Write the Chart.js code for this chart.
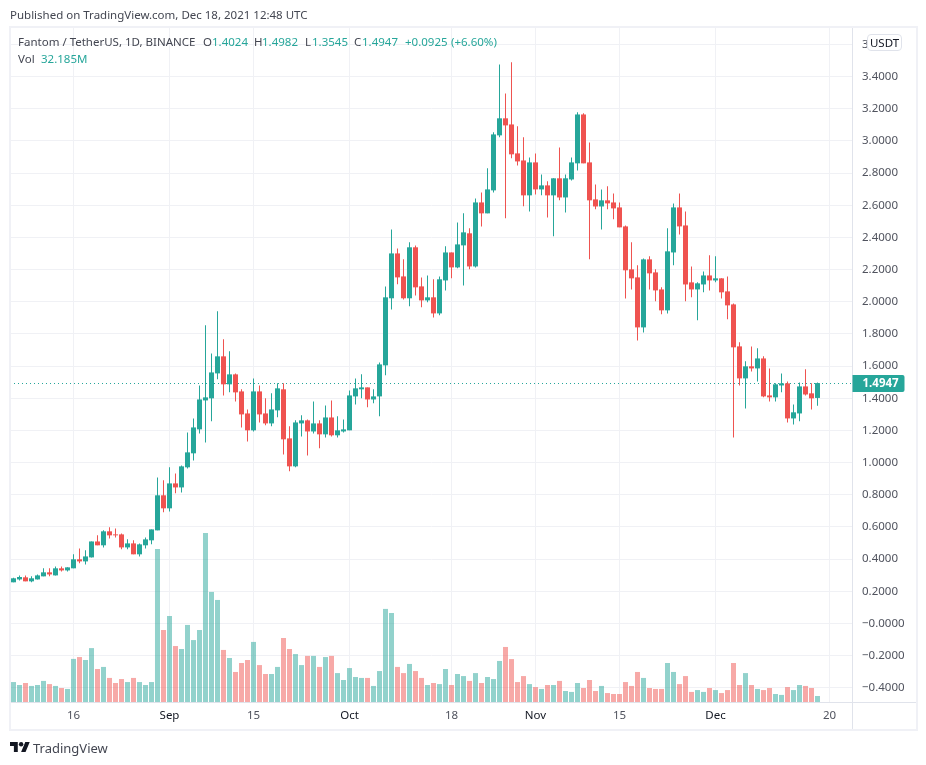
<!DOCTYPE html>
<html>
<head>
<meta charset="utf-8">
<title>Fantom / TetherUS</title>
<script src="https://cdn.jsdelivr.net/npm/chart.js@4"></script>
<style>
    body { margin: 0; background: #fff; font-family: "Noto Sans", sans-serif; }
    #wrap { position: relative; width: 926px; height: 765px; overflow: hidden; }
    canvas { position: absolute; left: 0; top: 0; }
    #frame { position: absolute; left: 9px; top: 26px; width: 909px; height: 705px; box-sizing: border-box; border: 2px solid #f0f1f6; }
    .t { position: absolute; font-size: 11.5px; line-height: 16px; white-space: nowrap; color: #434651; }
    .v { color: #26a69a; }
    #pill { position: absolute; left: 867px; top: 34px; width: 35px; height: 17px; box-sizing: border-box; border: 1px solid #e0e3eb; border-radius: 4px; background: #fff; font-size: 11.5px; line-height: 15px; text-align: center; color: #131722; }
</style>
</head>
<body>
<div id="wrap">
    <canvas id="chart" width="926" height="765"></canvas>
    <div id="frame"></div>
    <div class="t" style="left:10px;top:7px">Published on TradingView.com, Dec 18, 2021 12:48 UTC</div>
    <div class="t" style="left:18px;top:34px">Fantom / TetherUS, 1D, BINANCE</div>
    <div class="t" style="left:203px;top:34px">O</div><div class="t v" style="left:212px;top:34px">1.4024</div>
    <div class="t" style="left:254px;top:34px">H</div><div class="t v" style="left:262px;top:34px">1.4982</div>
    <div class="t" style="left:305px;top:34px">L</div><div class="t v" style="left:312px;top:34px">1.3545</div>
    <div class="t" style="left:354px;top:34px">C</div><div class="t v" style="left:362px;top:34px">1.4947</div>
    <div class="t v" style="left:405px;top:34px">+0.0925</div><div class="t v" style="left:451px;top:34px">(+6.60%)</div>
    <div class="t" style="left:18px;top:51px">Vol</div><div class="t v" style="left:41px;top:51px">32.185M</div>
    <div id="pill">USDT</div>
    <svg style="position:absolute;left:10px;top:742px" width="20" height="10" viewBox="0 4 36 18">
        <path fill="#131722" d="M14 22H7V11H0V4h14v18zM28 22h-8l7.5-18h8L28 22z"/><circle fill="#131722" cx="20" cy="8" r="4"/>
    </svg>
    <div class="t" style="left:33px;top:740px;font-size:13px">TradingView</div>
</div>
<script>
'use strict';

/* global Chart */

const opens = [.256,.274,.287,.262,.274,.293,.318,.299,.343,.330,.343,.399,.386,.411,.510,.486,.573,.554,.554,.473,
    .498,.430,.486,.517,.579,.797,.716,.871,.846,.971,1.058,1.207,1.387,1.400,1.555,1.661,1.487,1.549,1.443,1.306,
    1.201,1.443,1.306,1.244,1.325,1.456,1.151,.977,1.244,1.263,1.194,1.244,1.176,1.281,1.170,1.194,1.201,1.412,1.456,1.468,
    1.393,1.412,1.605,2.022,2.301,2.158,2.022,2.339,2.096,2.009,2.028,1.928,2.133,2.307,2.214,2.351,2.426,2.220,2.618,2.550,
    2.693,3.035,3.141,3.103,2.923,2.879,2.662,2.867,2.699,2.724,2.662,2.768,2.649,2.761,2.861,3.165,2.867,2.637,2.593,2.631,
    2.618,2.587,2.469,2.202,2.152,1.841,2.264,2.183,2.077,1.947,2.307,2.587,2.475,2.121,2.077,2.108,2.164,2.133,2.146,2.065,
    1.984,1.723,1.524,1.599,1.586,1.648,1.418,1.406,1.480,1.493,1.275,1.306,1.474,1.431,1.4024];
const highs = [.285,.299,.299,.293,.305,.343,.343,.355,.355,.349,.430,.467,.455,.510,.548,.579,.598,.591,.560,.523,
    .517,.498,.535,.585,.908,.890,.971,.933,.983,1.188,1.275,1.480,1.854,1.679,1.941,1.767,1.692,1.555,1.456,1.331,
    1.524,1.480,1.400,1.431,1.493,1.493,1.226,1.263,1.294,1.269,1.381,1.263,1.356,1.387,1.288,1.269,1.449,1.524,1.549,1.468,
    1.456,1.623,2.096,2.450,2.332,2.264,2.370,2.351,2.152,2.164,2.140,2.158,2.345,2.307,2.494,2.550,2.457,2.643,2.680,2.830,
    3.054,3.476,3.296,3.489,3.091,3.023,2.898,2.923,2.792,2.749,2.768,2.960,2.792,2.898,3.178,3.172,2.991,2.730,2.699,2.718,
    2.674,2.618,2.475,2.370,2.227,2.270,2.283,2.202,2.090,2.457,2.612,2.674,2.562,2.220,2.121,2.189,2.289,2.283,2.146,2.158,
    1.990,1.748,1.630,1.723,1.711,1.661,1.586,1.493,1.555,1.505,1.362,1.499,1.580,1.493,1.4982];
const lows = [.256,.268,.262,.256,.274,.293,.293,.299,.324,.324,.343,.374,.367,.411,.486,.473,.529,.535,.461,.461,
    .430,.417,.467,.492,.579,.691,.697,.809,.815,.964,1.014,1.182,1.126,1.257,1.518,1.418,1.437,1.381,1.219,1.132,
    1.194,1.250,1.232,1.226,1.282,1.051,.946,.971,1.163,1.045,1.182,1.089,1.157,1.163,1.157,1.188,1.201,1.362,1.400,1.344,
    1.369,1.288,1.543,1.953,2.109,2.015,1.972,2.040,1.966,1.997,1.903,1.916,2.071,2.146,2.208,2.102,2.202,2.214,2.469,2.550,
    2.680,3.023,2.519,2.892,2.848,2.594,2.562,2.668,2.662,2.525,2.407,2.631,2.556,2.755,2.817,2.861,2.264,2.575,2.450,2.575,
    2.513,2.463,2.021,2.077,1.760,1.810,2.077,2.003,1.922,1.928,2.227,2.419,2.003,2.028,1.885,2.059,2.071,2.121,2.021,1.891,
    1.157,1.480,1.337,1.567,1.505,1.406,1.381,1.381,1.437,1.250,1.238,1.257,1.418,1.331,1.3545];
const closes = [.281,.289,.262,.281,.299,.318,.305,.343,.330,.349,.399,.386,.417,.510,.486,.573,.548,.548,.473,.498,
    .430,.492,.523,.585,.797,.716,.871,.846,.977,1.064,1.219,1.393,1.406,1.561,1.661,1.487,1.549,1.437,1.300,1.201,
    1.443,1.300,1.244,1.331,1.462,1.145,.977,1.250,1.263,1.194,1.244,1.176,1.281,1.170,1.201,1.207,1.418,1.462,1.468,1.393,
    1.412,1.611,2.028,2.301,2.152,2.022,2.339,2.090,2.009,2.028,1.928,2.140,2.307,2.214,2.357,2.432,2.220,2.618,2.550,2.699,
    3.041,3.141,3.097,2.917,2.873,2.662,2.867,2.699,2.724,2.662,2.768,2.649,2.768,2.867,3.165,2.861,2.631,2.593,2.631,2.612,
    2.581,2.463,2.196,2.146,1.841,2.264,2.177,2.071,1.947,2.314,2.587,2.469,2.108,2.077,2.115,2.164,2.133,2.146,2.059,1.978,
    1.717,1.524,1.599,1.586,1.648,1.412,1.406,1.487,1.493,1.275,1.313,1.474,1.424,1.400,1.4947];
const volumes = [107,91,102,86,91,113,96,86,75,70,231,241,225,289,177,188,129,102,123,107,
    129,107,91,107,820,386,461,300,284,413,332,386,906,590,547,279,236,161,209,225,
    322,198,150,150,188,343,284,257,198,247,247,188,241,247,155,118,182,134,129,129,
    86,166,499,477,188,155,204,166,129,91,102,96,177,91,150,139,113,155,102,134,
    123,220,295,230,107,139,96,80,70,91,91,113,59,54,102,75,118,59,86,48,
    43,43,107,86,161,129,75,70,70,209,161,96,139,54,64,54,75,64,48,64,
    209,91,155,91,70,64,75,43,38,80,64,91,86,75,32.185];

const timeTicks = [10, 26, 40, 56, 73, 87, 101, 117, 136];
const timeLabels = ['16', 'Sep', '15', 'Oct', '18', 'Nov', '15', 'Dec', '20'];
const monthLabels = ['Sep', 'Oct', 'Nov', 'Dec'];
const priceTicks = [-0.4, -0.2, 0, 0.2, 0.4, 0.6, 0.8, 1, 1.2, 1.4, 1.6, 1.8, 2, 2.2, 2.4, 2.6, 2.8, 3, 3.2, 3.4, 3.6];
const lastPrice = 1.4947;

const UP = '#26a69a', DOWN = '#ef5350';
const UP_VOL = 'rgba(38, 166, 154, 0.5)', DOWN_VOL = 'rgba(239, 83, 80, 0.5)';
const LINE = '#e0e3eb', GRID = '#f0f1f5';
const FONT = '"Noto Sans", sans-serif';
const X_MIN = -0.5833, X_MAX = 139.9167;

let isUp = (i) => closes[i] >= opens[i];
let candleColor = (i) => (isUp(i) ? UP : DOWN);

// dotted last price line goes under the candles, axis lines and price tag over everything
const overlay = {
    id: 'overlay',
    beforeDatasetsDraw(chart) {
        const { ctx, chartArea } = chart;
        const py = Math.floor(chart.scales.y.getPixelForValue(lastPrice)) + 0.5;
        ctx.save();
        ctx.strokeStyle = UP;
        ctx.lineWidth = 1;
        ctx.setLineDash([1, 3]);
        ctx.beginPath();
        ctx.moveTo(chartArea.left, py);
        ctx.lineTo(chartArea.right, py);
        ctx.stroke();
        ctx.restore();
    },
    afterDraw(chart) {
        const { ctx, chartArea } = chart;
        const x = Math.floor(chartArea.right) - 0.5, y = Math.floor(chartArea.bottom) + 0.5;
        ctx.save();
        ctx.strokeStyle = LINE;
        ctx.lineWidth = 1;
        ctx.beginPath();
        ctx.moveTo(x, chartArea.top);
        ctx.lineTo(x, 729);
        ctx.moveTo(chartArea.left, y);
        ctx.lineTo(916, y);
        ctx.stroke();

        const py = Math.floor(chart.scales.y.getPixelForValue(lastPrice));
        ctx.fillStyle = UP;
        ctx.beginPath();
        ctx.roundRect(x, py - 8, 52, 17, [0, 2, 2, 0]);
        ctx.fill();
        ctx.fillStyle = '#fff';
        ctx.font = `bold 11.5px ${FONT}`;
        ctx.textBaseline = 'middle';
        ctx.fillText(lastPrice.toFixed(4), x + 10, py + 1);
        ctx.restore();
    }
};

new Chart(document.getElementById('chart'), {
    data: {
        datasets: [{
            type: 'bar',
            label: 'Candle bodies',
            order: 1,
            grouped: false,
            barThickness: 5,
            inflateAmount: 0,
            data: opens.map((o, i) => ({ x: i, y: [o, closes[i]] })),
            backgroundColor: opens.map((o, i) => candleColor(i))
        }, {
            type: 'bar',
            label: 'Candle wicks',
            order: 2,
            grouped: false,
            barThickness: 1,
            inflateAmount: 0,
            data: lows.map((l, i) => ({ x: i, y: [l, highs[i]] })),
            backgroundColor: lows.map((l, i) => candleColor(i))
        }, {
            type: 'bar',
            label: 'Vol',
            order: 6,
            grouped: false,
            yAxisID: 'vol',
            barThickness: 5,
            inflateAmount: 0,
            data: volumes.map((v, i) => ({ x: i, y: v })),
            backgroundColor: volumes.map((v, i) => (isUp(i) ? UP_VOL : DOWN_VOL))
        }]
    },
    options: {
        responsive: false,
        animation: false,
        devicePixelRatio: 1,
        layout: { padding: { left: 10, right: 10, top: 28, bottom: 36 } },
        plugins: { legend: { display: false }, tooltip: { enabled: false } },
        scales: {
            x: {
                type: 'linear',
                offset: false,
                min: X_MIN,
                max: X_MAX,
                afterBuildTicks: (axis) => { axis.ticks = timeTicks.map((v) => ({ value: v })); },
                afterFit: (axis) => { axis.height = 27; },
                grid: { color: GRID, drawTicks: false, offset: false },
                border: { display: false },
                ticks: {
                    autoSkip: false,
                    maxRotation: 0,
                    padding: 7,
                    font: { family: FONT, size: 11.5 },
                    color: (ctx) => (monthLabels.includes(timeLabels[ctx.index]) ? '#131722' : '#50535e'),
                    callback: (v, i) => timeLabels[i]
                }
            },
            y: {
                position: 'right',
                min: -0.4882,
                max: 3.7026,
                afterBuildTicks: (axis) => { axis.ticks = priceTicks.map((v) => ({ value: v })); },
                afterFit: (axis) => { axis.width = 63; },
                grid: { color: GRID, drawTicks: false },
                border: { display: false },
                ticks: {
                    autoSkip: false,
                    padding: 9,
                    crossAlign: 'near',
                    font: { family: FONT, size: 11.5 },
                    color: '#50535e',
                    callback: (v) => (v <= 0 ? '\u2212' + Math.abs(v).toFixed(4) : v.toFixed(4))
                }
            },
            vol: {
                display: false,
                min: 0,
                max: 3613
            }
        }
    },
    plugins: [overlay]
});
</script>
</body>
</html>
